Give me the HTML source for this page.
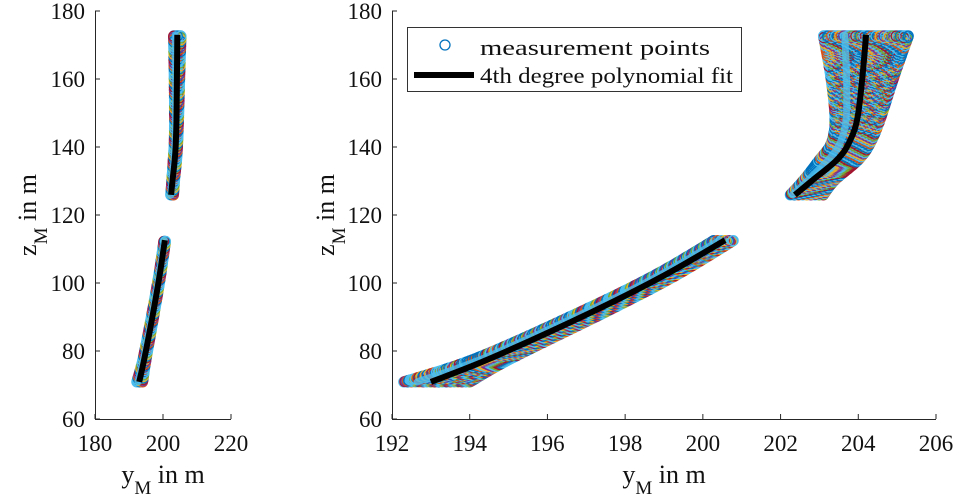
<!DOCTYPE html>
<html><head><meta charset="utf-8">
<style>
html,body{margin:0;padding:0;background:#fff;}
svg{display:block;}
text,tspan{font-family:"Liberation Serif","Times New Roman",serif;fill:#111;}
</style></head>
<body>
<svg id="chart" width="960" height="502" viewBox="0 0 960 502" xmlns="http://www.w3.org/2000/svg" font-family="Liberation Serif, serif">
<g id="left"></g>
<g id="right"></g>
<g id="legend">
  <rect x="407.5" y="27.5" width="334" height="64" fill="#fff" stroke="#333" stroke-width="1"/>
  <circle cx="445" cy="45" r="5" fill="none" stroke="#0072BD" stroke-width="1.3"/>
  <text x="480" y="55" font-size="22" font-family="Liberation Serif, serif" textLength="230" lengthAdjust="spacingAndGlyphs">measurement points</text>
  <line x1="414" y1="75" x2="474" y2="75" stroke="#000" stroke-width="6"/>
  <text x="480" y="83" font-size="22" font-family="Liberation Serif, serif" textLength="253" lengthAdjust="spacingAndGlyphs">4th degree polynomial fit</text>
</g>
</svg>
<script>
// fitted curve data (y_M, z_M)
const lowerY = [193.0, 194.57, 197.15, 199.0, 200.57];
const lowerZ = [70.9, 78.0, 91.5, 102.2, 112.6];
const upperY = [202.37, 202.83, 203.45, 203.75, 203.97, 204.1, 204.2];
const upperZ = [125.9, 130.3, 136.2, 141, 148, 160, 173];
// measurement spread (min / max y_M at each fit point)
const lowerSpreadLo = [192.3, 194.2, 196.85, 198.75, 200.3];
const lowerSpreadHi = [194.0, 195.1, 197.5, 199.3, 200.8];
const upperSpreadLo = [202.25, 202.6, 203.0, 203.3, 203.4, 203.3, 203.1];
const upperSpreadHi = [203.1, 203.4, 204.0, 204.3, 204.56, 204.9, 205.3];
// axis ticks
const leftXTicks = [180, 200, 220];
const rightXTicks = [192, 194, 196, 198, 200, 202, 204, 206];
const zTicks = [60, 80, 100, 120, 140, 160, 180];

const NS = 'http://www.w3.org/2000/svg';
const FONT = 'Liberation Serif, serif';
const colors = ['#4DBEEE','#0072BD','#D95319','#4DBEEE','#EDB120','#7E2F8E','#4DBEEE','#77AC30','#A2142F','#0072BD'];
function mk(tag, attrs, parent){const e=document.createElementNS(NS,tag);for(const k in attrs)e.setAttribute(k,attrs[k]);parent.appendChild(e);return e;}
function smooth(pts){
  let d = 'M' + pts[0][0].toFixed(1) + ',' + pts[0][1].toFixed(1);
  for (let i = 0; i < pts.length - 1; i++) {
    const p0 = pts[Math.max(0, i-1)], p1 = pts[i], p2 = pts[i+1], p3 = pts[Math.min(pts.length-1, i+2)];
    const c1 = [p1[0] + (p2[0]-p0[0])/6, p1[1] + (p2[1]-p0[1])/6];
    const c2 = [p2[0] - (p3[0]-p1[0])/6, p2[1] - (p3[1]-p1[1])/6];
    d += 'C' + c1[0].toFixed(1)+','+c1[1].toFixed(1)+' '+c2[0].toFixed(1)+','+c2[1].toFixed(1)+' '+p2[0].toFixed(1)+','+p2[1].toFixed(1);
  }
  return d;
}
function crVal(arr, i, t){
  const p0 = arr[Math.max(0,i-1)], p1 = arr[i], p2 = arr[i+1], p3 = arr[Math.min(arr.length-1,i+2)];
  const t2 = t*t, t3 = t2*t;
  return 0.5*((2*p1) + (-p0+p2)*t + (2*p0-5*p1+4*p2-p3)*t2 + (-p0+3*p1-3*p2+p3)*t3);
}

function drawAxes(g, x0, x1, xmin, xmax, xTicks, yTitleX){
  const y0 = 419, y1 = 11;
  const sx = v => x0 + (v - xmin) / (xmax - xmin) * (x1 - x0);
  const sy = v => y0 - (v - 60) / 120 * (y0 - y1);
  function band(Y, Z, lo, hi, name){
    const grp = mk('g', {}, g);
    
    
    const left = lo.map((v, i) => [sx(v), sy(Z[i])]);
    const right = hi.map((v, i) => [sx(v), sy(Z[i])]).reverse();
    const env = mk('path', {d: smooth(left) + smooth(right).replace('M', 'L') + 'Z', fill: '#3AA3DD', stroke: '#3AA3DD', 'stroke-width': 9, 'stroke-linejoin': 'round'}, grp);
    
    
    let ci = 0;
    for (let i = 0; i < Y.length - 1; i++) {
      const pxLen = Math.abs(sy(Z[i+1]) - sy(Z[i])) + Math.abs(sx(Y[i+1]) - sx(Y[i]));
      const steps = Math.max(4, Math.round(pxLen / 2.5));
      for (let s = 0; s < steps; s++) {
        const t = s / steps;
        const z = crVal(Z, i, t);
        const l = crVal(lo, i, t), h = crVal(hi, i, t);
        const pl = sx(l), ph = sx(h);
        const n = Math.max(2, Math.round((ph - pl) / 4));
        for (let k = 0; k <= n; k++) {
          const c = mk('circle', {cx: (pl + (ph - pl) * k / n).toFixed(1), cy: sy(z).toFixed(1), r: 5, fill: 'none', stroke: colors[(ci++) % colors.length], 'stroke-width': 1.1}, grp);
          
          
        }
      }
    }
    const core = mk('path', {d: smooth(Y.map((v, i) => [sx((v + lo[i]) / 2), sy(Z[i])])), fill: 'none', stroke: '#4DBEEE', 'stroke-width': 7, 'stroke-linecap': 'round', opacity: 0.8}, grp);
    
    
  }
  function fit(Y, Z, name){
    const p = mk('path', {d: smooth(Y.map((v, i) => [sx(v), sy(Z[i])])), fill: 'none', stroke: '#000', 'stroke-width': 6}, g);
    
    
  }
  band(lowerY, lowerZ, lowerSpreadLo, lowerSpreadHi, 'measurement-band-lower');
  band(upperY, upperZ, upperSpreadLo, upperSpreadHi, 'measurement-band-upper');
  fit(lowerY, lowerZ, 'fit-line-lower');
  fit(upperY, upperZ, 'fit-line-upper');
  const ax = mk('path', {d: `M${x0+0.5},${y1}V${y0+0.5}H${x1}`, fill: 'none', stroke: '#262626', 'stroke-width': 1}, g);
  
  
  xTicks.forEach(v => {
    const x = sx(v);
    const tk = mk('line', {x1: x, y1: y0, x2: x, y2: y0 - 5, stroke: '#262626', 'stroke-width': 1}, g);
    
    
    const t = mk('text', {x: x, y: 451, 'font-size': 23, 'text-anchor': 'middle', 'font-family': FONT}, g);
    t.textContent = v;
    
    
  });
  zTicks.forEach(v => {
    const y = sy(v);
    const tk = mk('line', {x1: x0, y1: y, x2: x0 + 5, y2: y, stroke: '#262626', 'stroke-width': 1}, g);
    
    
    const t = mk('text', {x: x0 - 10, y: y + 8, 'font-size': 23, 'text-anchor': 'end', 'font-family': FONT}, g);
    t.textContent = v;
    
    
  });
  const xt = mk('text', {x: (x0 + x1) / 2, y: 483, 'font-size': 26, 'text-anchor': 'middle', 'font-family': FONT}, g);
  xt.innerHTML = 'y<tspan font-size="19" dy="11">M</tspan><tspan dy="-11"> in m</tspan>';
  
  
  const yt = mk('text', {x: 0, y: 0, 'font-size': 26, 'text-anchor': 'middle', 'font-family': FONT, transform: `translate(${yTitleX},215) rotate(-90)`}, g);
  yt.innerHTML = 'z<tspan font-size="19" dy="11">M</tspan><tspan dy="-11"> in m</tspan>';
  
  
}
drawAxes(document.getElementById('left'), 95, 231, 180, 220, leftXTicks, 36);
drawAxes(document.getElementById('right'), 392, 936, 192, 206, rightXTicks, 334);
document.getElementById('chart').appendChild(document.getElementById('legend'));
</script>
</body></html>
